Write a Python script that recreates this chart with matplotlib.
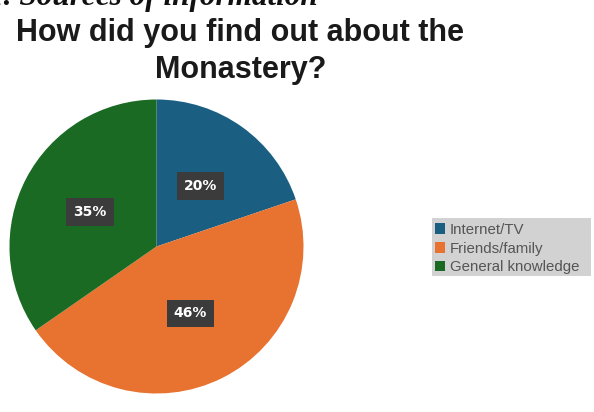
import matplotlib
matplotlib.use("Agg")
import matplotlib.pyplot as plt
from matplotlib.patches import Rectangle
import numpy as np

# Survey answers: how visitors heard about the monastery
categories = ["Internet/TV", "Friends/family", "General knowledge"]
shares = [20, 46, 35]
colors = ["#1a5e82", "#e8722f", "#1b6a24"]

W, H = 594, 412
fig = plt.figure(figsize=(W / 100, H / 100), dpi=100)
fig.patch.set_facecolor("white")

def px(x, y):
    """Convert pixel coordinates (origin top-left) to figure fractions."""
    return x / W, 1 - y / H

# Section heading, partly cut by the top edge
fig.text(*px(-12, 5), "1. Sources of information", family="Liberation Serif",
         fontsize=22.5, fontweight="bold", fontstyle="italic", color="#111111",
         ha="left", va="baseline")

# Chart title
fig.text(*px(240, 41), "How did you find out about the", family="Liberation Sans",
         fontsize=22, fontweight="bold", color="#1a1a1a", ha="center", va="baseline")
fig.text(*px(241, 78), "Monastery?", family="Liberation Sans",
         fontsize=22, fontweight="bold", color="#1a1a1a", ha="center", va="baseline")

# Pie
cx, cy, r = 156.5, 246.5, 147
ax = fig.add_axes([(cx - r) / W, (H - cy - r) / H, 2 * r / W, 2 * r / H])
wedges, _ = ax.pie(shares, colors=colors, startangle=90, counterclock=False,
                   radius=1, wedgeprops=dict(linewidth=0))
ax.set_xlim(-1, 1)
ax.set_ylim(-1, 1)
ax.set_aspect("equal")
ax.axis("off")

for w, v in zip(wedges, shares):
    mid = np.deg2rad((w.theta1 + w.theta2) / 2)
    ax.text(0.51 * np.cos(mid), 0.51 * np.sin(mid), f"{v}%", family="DejaVu Sans",
            fontsize=10, fontweight="bold", color="white", ha="center", va="center",
            bbox=dict(boxstyle="square,pad=0.5", facecolor="#3b3b3b", edgecolor="none"))

# Legend on a grey panel
x0, y0 = px(432, 276)
x1, y1 = px(591, 218)
fig.add_artist(Rectangle((x0, y0), x1 - x0, y1 - y0, transform=fig.transFigure,
                         facecolor="#d2d2d2", edgecolor="none", zorder=0))
leg = fig.legend(wedges, categories, loc="upper left", bbox_to_anchor=px(431, 219),
                 frameon=False, prop=dict(family="Liberation Sans", size=10.8),
                 handlelength=0.7, handleheight=0.7, handletextpad=0.3,
                 labelspacing=0.32, borderpad=0.25, borderaxespad=0)
for t in leg.get_texts():
    t.set_color("#555555")

fig.savefig("out.png", dpi=100)
